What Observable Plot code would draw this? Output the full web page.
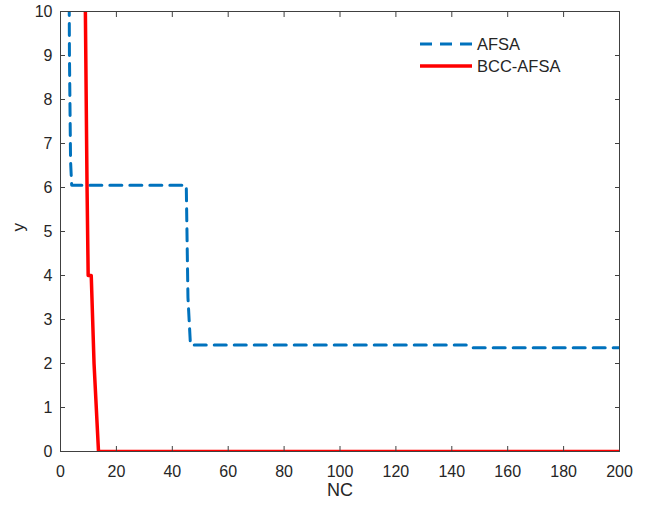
<!DOCTYPE html>
<html>
<head>
<meta charset="utf-8">
<script src="https://cdn.jsdelivr.net/npm/d3@7"></script>
<script src="https://cdn.jsdelivr.net/npm/@observablehq/plot@0.6"></script>
<style>
  html, body { margin: 0; padding: 0; background: #fff; }
  #wrap { position: relative; width: 648px; height: 506px; }
  #legend { position: absolute; left: 418px; top: 33px; font-family: "Liberation Sans", Arial, sans-serif; font-size: 16.5px; color: #262626; }
  .row { display: flex; align-items: center; height: 22px; }
  .row span { margin-left: 3px; }
  svg.plot-chart g[aria-label="x-axis tick label"] text,
  svg.plot-chart g[aria-label="y-axis tick label"] text { font-size: 16px; }
</style>
</head>
<body>
<div id="wrap"><div id="legend"></div></div>
<script>
// AFSA series
const afsaX = [3, 3.2, 3.6, 4, 45, 45.6, 46.5, 146, 147, 200];
const afsaY = [12, 9, 6.6, 6.05, 6.05, 3.5, 2.42, 2.42, 2.36, 2.36];
// BCC-AFSA series
const bccX = [8.6, 9.5, 9.9, 11, 12, 13.6, 200];
const bccY = [12, 6, 4, 4, 2, 0, 0];
const seriesNames = ["AFSA", "BCC-AFSA"];
const seriesColors = ["#0072BD", "#FF0000"];
const xTicks = [0, 20, 40, 60, 80, 100, 120, 140, 160, 180, 200];
const yTicks = [0, 1, 2, 3, 4, 5, 6, 7, 8, 9, 10];

const afsa = afsaX.map((x, i) => ({x, y: afsaY[i]}));
const bcc = bccX.map((x, i) => ({x, y: bccY[i]}));

const font = "Liberation Sans, Arial, sans-serif";
const axisColor = "#404040";

const chart = Plot.plot({
  width: 648,
  height: 506,
  marginLeft: 60,
  marginRight: 29,
  marginTop: 11,
  marginBottom: 55,
  className: "plot-chart",
  style: {fontFamily: font, fontSize: "16px", color: "#262626", background: "#fff"},
  x: {domain: [0, 200]},
  y: {domain: [0, 10]},
  marks: [
    Plot.line(afsa, {x: "x", y: "y", stroke: seriesColors[0], strokeWidth: 3, strokeDasharray: "12,8", clip: true}),
    Plot.line(bcc, {x: "x", y: "y", stroke: seriesColors[1], strokeWidth: 3.5, clip: true}),
    Plot.frame({stroke: axisColor, strokeWidth: 1}),
    Plot.axisX(xTicks, {anchor: "bottom", tickSize: -5, tickPadding: 19, label: null, stroke: axisColor, fill: "#262626", fontSize: 16}),
    Plot.axisX(xTicks, {anchor: "top", tickSize: -5, tickFormat: () => "", label: null, stroke: axisColor}),
    Plot.axisY(yTicks, {anchor: "left", tickSize: -5, tickPadding: 13, label: null, stroke: axisColor, fill: "#262626", fontSize: 16}),
    Plot.axisY(yTicks, {anchor: "right", tickSize: -5, tickFormat: () => "", label: null, stroke: axisColor}),
    Plot.text(["NC"], {frameAnchor: "bottom", dy: 44, fill: "#262626", fontSize: 18}),
    Plot.text(["y"], {frameAnchor: "left", dx: -42, rotate: -90, fill: "#262626", fontSize: 17})
  ]
});
document.getElementById("wrap").prepend(chart);

// legend
const legend = document.getElementById("legend");
seriesNames.forEach((name, i) => {
  const row = document.createElement("div");
  row.className = "row";
  const dash = i === 0 ? 'stroke-dasharray="12,8"' : "";
  row.innerHTML = `<svg width="56" height="8"><line x1="2" y1="4" x2="54" y2="4" stroke="${seriesColors[i]}" stroke-width="${i === 0 ? 3 : 3.5}" ${dash}/></svg><span>${name}</span>`;
  legend.appendChild(row);
});
</script>
</body>
</html>
